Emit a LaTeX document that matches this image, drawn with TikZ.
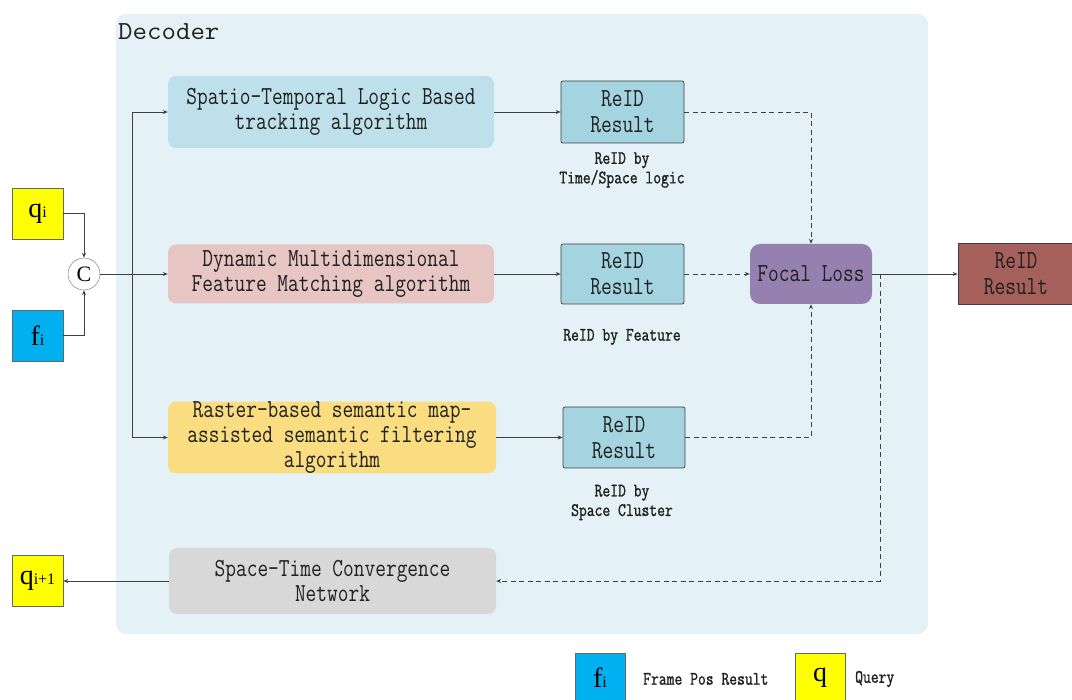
\documentclass[tikz,border=0pt]{standalone}
\usepackage{fontspec}
\usetikzlibrary{arrows.meta,shapes.geometric}
\newfontfamily\boxfont[FakeStretch=0.8]{Latin Modern Mono}
\newfontfamily\notefont[FakeStretch=0.8,FakeBold=1.2]{Latin Modern Mono}
\newfontfamily\titlefont[FakeStretch=1.08]{Latin Modern Mono}
\newfontfamily\symfont{Liberation Serif}

\definecolor{decbg}{HTML}{E4F2F8}
\definecolor{algA}{HTML}{BEE0EA}
\definecolor{algB}{HTML}{E6C5C3}
\definecolor{algC}{HTML}{FADD80}
\definecolor{algD}{HTML}{D8D8D8}
\definecolor{reidc}{HTML}{A4D4E0}
\definecolor{focalc}{HTML}{9580B0}
\definecolor{outc}{HTML}{A5605B}
\definecolor{qyellow}{HTML}{FFFF00}
\definecolor{fcyan}{HTML}{00B0F0}
\definecolor{linec}{HTML}{404040}
\definecolor{txtc}{HTML}{202020}

\newcommand{\qsym}[1]{{\symfont\fontsize{28}{28}\selectfont q\fontsize{16}{16}\selectfont #1}}
\newcommand{\fsym}[1]{{\symfont\fontsize{28}{28}\selectfont f\fontsize{16}{16}\selectfont #1}}

\tikzset{
  algbox/.style={rounded corners=8pt, inner sep=0pt, align=center, text=txtc,
    font=\boxfont\fontsize{26}{25}\selectfont},
  reidbox/.style={draw=linec, line width=0.7pt, rounded corners=2pt, fill=reidc,
    inner sep=0pt, align=center, text=txtc, minimum width=123pt,
    font=\boxfont\fontsize{26}{26}\selectfont},
  symbox/.style={draw=linec!80, line width=0.7pt, inner sep=0pt,
    minimum width=51pt, minimum height=51pt, text=black},
  note/.style={align=center, text=txtc, inner sep=0pt,
    font=\notefont\fontsize{19}{19.5}\selectfont},
  arr/.style={draw=linec, line width=0.8pt, -{Stealth[length=5pt,width=4pt]}},
  dsh/.style={dash pattern=on 5pt off 3.5pt},
}

\begin{document}
\begin{tikzpicture}[x=1pt,y=-1pt]
\useasboundingbox (0,0) rectangle (1072,700);

% decoder frame
\node[fill=decbg, rounded corners=10pt, minimum width=812pt, minimum height=620pt,
      inner sep=0pt] (dec) at (522,324) {};
\node[anchor=west, inner sep=0pt, text=txtc,
      font=\titlefont\fontsize{26}{26}\selectfont] (dectitle) at (118,32) {Decoder};

% inputs
\node[symbox, fill=qyellow] (qi) at (37.5,213.5) {\qsym{i}};
\node[symbox, fill=fcyan] (fi) at (37.5,335.5) {\fsym{i}};
\node[draw=linec!80, fill=white, circle, minimum size=32pt, inner sep=0pt,
      font=\symfont\fontsize{22}{22}\selectfont] (cat) at (84,274) {C};
\node[symbox, fill=qyellow] (qn) at (37.5,581) {\qsym{i+1}};

% algorithm branches
\node[algbox, fill=algA, minimum width=326pt, minimum height=72pt] (b1) at (331,112)
  {Spatio-Temporal Logic Based\\tracking algorithm};
\node[algbox, fill=algB, minimum width=326pt, minimum height=59pt] (b2) at (331,274)
  {Dynamic Multidimensional\\Feature Matching algorithm};
\node[algbox, fill=algC, minimum width=328pt, minimum height=67pt] (b3) at (332,437.5)
  {Raster-based semantic map-\\assisted semantic filtering\\algorithm};
\node[algbox, fill=algD, minimum width=327pt, minimum height=66pt] (b4) at (332.5,581)
  {Space-Time Convergence\\Network};

% per-branch results
\node[reidbox, minimum height=62pt] (r1) at (622.5,112) {ReID\\Result};
\node[reidbox, minimum height=60pt] (r2) at (622.5,274) {ReID\\Result};
\node[reidbox, minimum height=61pt, minimum width=122pt] (r3) at (624,437.5) {ReID\\Result};

\node[note] (n1) at (622,170) {ReID by\\Time/Space logic};
\node[note] (n2) at (622,337) {ReID by Feature};
\node[note] (n3) at (622,502.5) {ReID by\\Space Cluster};

% fusion and output
\node[algbox, fill=focalc, rounded corners=10pt, minimum width=122pt, minimum height=60pt]
  (fl) at (811,274) {Focal Loss};
\node[reidbox, fill=outc, rounded corners=0pt, minimum width=116pt, minimum height=61pt]
  (out) at (1016,274) {ReID\\Result};

% legend
\node[symbox, fill=fcyan, minimum width=50pt, minimum height=50pt] (lf) at (600,678) {\fsym{i}};
\node[anchor=west, note] (lft) at (643,679) {Frame Pos Result};
\node[symbox, fill=qyellow, minimum width=50pt, minimum height=50pt] (lq) at (820,678) {\qsym{}};
\node[anchor=west, note] (lqt) at (855,679) {Query};

% connectors
\coordinate (split) at (132,274);
\coordinate (loop) at (880,274);
\draw[arr] (qi.east) -| (cat.north);
\draw[arr] (fi.east) -| (cat.south);
\draw[arr] (cat.east) -- (b2.west);
\draw[arr] (split) |- (b1.west);
\draw[arr] (split) |- (b3.west);
\draw[arr] (b1.east) -- (r1.west);
\draw[arr] (b2.east) -- (r2.west);
\draw[arr] (b3.east) -- (r3.west);
\draw[arr, dsh] (r1.east) -| (fl.north);
\draw[arr, dsh] (r2.east) -- (fl.west);
\draw[arr, dsh] (r3.east) -| (fl.south);
\draw[arr] (fl.east) -- (out.west);
\draw[arr, dsh] (loop) |- (b4.east);
\draw[arr] (b4.west) -- (qn.east);
\end{tikzpicture}
\end{document}
